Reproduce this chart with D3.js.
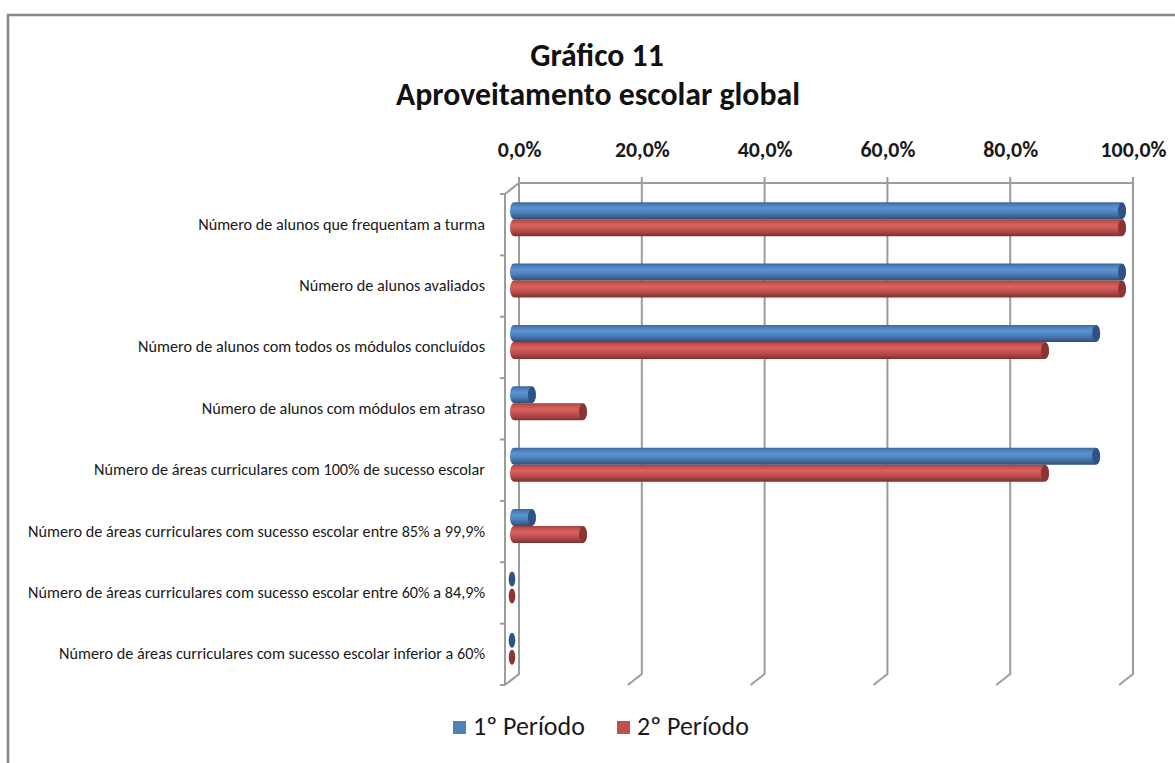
<!DOCTYPE html>
<html><head><meta charset="utf-8">
<script src="https://cdn.jsdelivr.net/npm/d3@7"></script>
<style>html,body{margin:0;padding:0;background:#fff;}svg{display:block;}</style>
</head><body>
<script>
const categories = [
  "Número de alunos que frequentam a turma",
  "Número de alunos avaliados",
  "Número de alunos com todos os módulos concluídos",
  "Número de alunos com módulos em atraso",
  "Número de áreas curriculares com 100% de sucesso escolar",
  "Número de áreas curriculares com sucesso escolar entre 85% a 99,9%",
  "Número de áreas curriculares com sucesso escolar entre 60% a 84,9%",
  "Número de áreas curriculares com sucesso escolar inferior a 60%"
];
const periodo1 = [100, 100, 95.8, 4.2, 95.8, 4.2, 0, 0];
const periodo2 = [100, 100, 87.5, 12.5, 87.5, 12.5, 0, 0];
const seriesNames = ["1º Período", "2º Período"];
const tickValues = [0, 20, 40, 60, 80, 100];
const titleLines = ["Gráfico 11", "Aproveitamento escolar global"];

const W = 1175, H = 763;
const FONT = "Carlito, Calibri, Lato, 'Open Sans', sans-serif";
const svg = d3.select("body").append("svg").attr("width", W).attr("height", H);

// outer border
svg.append("rect").attr("x", 8).attr("y", 15).attr("width", W + 20).attr("height", H + 20)
  .attr("fill", "#fff").attr("stroke", "#878787").attr("stroke-width", 2.5);

// 3D geometry
const back = {left: 519, right: 1133, top: 183, bottom: 674};
const depth = {dx: -14, dy: 11};
const xBack = d3.scaleLinear().domain([0, 100]).range([back.left, back.right]);
const xBar = d3.scaleLinear().domain([0, 100]).range([back.left + depth.dx / 2 - 2, back.right + depth.dx / 2 - 0]);
const yFront = d3.scaleBand().domain(categories).range([back.top + depth.dy, back.bottom + depth.dy]);
const yMid = d3.scaleBand().domain(categories).range([back.top + depth.dy / 2, back.bottom + depth.dy / 2]);

const gridColor = "#9c9c9c";
const grid = svg.append("g").attr("fill", "none").attr("stroke", gridColor).attr("stroke-width", 2);
// top back edge
grid.append("line").attr("x1", back.left).attr("x2", back.right).attr("y1", back.top).attr("y2", back.top);
// vertical back gridlines with floor slant
tickValues.forEach(v => {
  const x = xBack(v);
  grid.append("path").attr("d", `M${x},${back.top - 6}L${x},${back.bottom}L${x + depth.dx},${back.bottom + depth.dy}`);
});
// left wall front edge and top slant
grid.append("path").attr("d",
  `M${back.left},${back.top}L${back.left + depth.dx},${back.top + depth.dy}L${back.left + depth.dx},${back.bottom + depth.dy}`);
// category boundary ticks on front axis
const bounds = categories.map(c => yFront(c)).concat([yFront.range()[1]]);
bounds.forEach(y => {
  grid.append("line").attr("x1", back.left + depth.dx - 5).attr("x2", back.left + depth.dx)
    .attr("y1", y).attr("y2", y);
});

// top axis labels
const fmt = d3.formatLocale({decimal: ",", thousands: ".", grouping: [3], currency: ["", "€"]}).format(".1f");
const axis = d3.axisTop(xBack).tickValues(tickValues).tickSize(0).tickPadding(0).tickFormat(d => fmt(d) + "%");
const ax = svg.append("g").attr("transform", `translate(0,157)`).call(axis);
ax.select(".domain").remove();
ax.selectAll("text").attr("font-family", FONT).attr("font-weight", "bold").attr("font-size", 16)
  .attr("fill", "#1a1a1a").attr("dy", 0);

// fit helper
function fitSize(textSel, target) {
  const node = textSel.node();
  const w = node.getComputedTextLength();
  const fs = parseFloat(textSel.attr("font-size"));
  textSel.attr("font-size", fs * target / w);
}
// match tick label size to reference width of "100,0%"
{
  const last = ax.selectAll("text").filter(d => d === 100);
  const w = last.node().getComputedTextLength();
  const fs = 16 * 66 / w;
  ax.selectAll("text").attr("font-size", fs);
}

// category labels
const catG = svg.append("g");
const catText = catG.selectAll("text").data(categories).join("text")
  .attr("x", 485).attr("y", d => yFront(d) + yFront.bandwidth() / 2 + 5)
  .attr("text-anchor", "end").attr("font-family", FONT).attr("font-size", 13).attr("fill", "#1a1a1a")
  .text(d => d);
{
  const w = catText.filter((d, i) => i === 0).node().getComputedTextLength();
  catText.attr("font-size", 13 * 287 / w);
}

// gradients
const defs = svg.append("defs");
function cylGrad(id, stops) {
  const g = defs.append("linearGradient").attr("id", id).attr("x1", 0).attr("y1", 0).attr("x2", 0).attr("y2", 1);
  stops.forEach(([o, c]) => g.append("stop").attr("offset", o).attr("stop-color", c));
}
cylGrad("gBlue", [[0, "#3a6495"], [0.12, "#4a7ab3"], [0.35, "#5d92d3"], [0.55, "#5086c6"], [0.8, "#41699b"], [1, "#2f4d72"]]);
cylGrad("gRed", [[0, "#9c3f3d"], [0.12, "#c24f4c"], [0.35, "#d9625f"], [0.55, "#c85653"], [0.8, "#a44341"], [1, "#7a302f"]]);
const fills = ["url(#gBlue)", "url(#gRed)"];
const capColors = ["#2e5283", "#8a3533"];
const series = [periodo1, periodo2];

const barH = 17, capRx = 4;
const bars = svg.append("g");
series.forEach((vals, si) => {
  const g = bars.append("g");
  categories.forEach((c, i) => {
    const v = vals[i];
    const cy = yMid(c) + yMid.bandwidth() / 2;
    const y0 = si === 0 ? cy - barH : cy;
    const x0 = xBar(0), x1 = xBar(v);
    if (x1 - x0 > 2 * capRx) {
      g.append("path")
        .attr("d", `M${x0 + capRx},${y0}L${x1 - capRx},${y0}A${capRx},${barH / 2} 0 0 1 ${x1 - capRx},${y0 + barH}L${x0 + capRx},${y0 + barH}A${capRx},${barH / 2} 0 0 1 ${x0 + capRx},${y0}Z`)
        .attr("fill", fills[si]);
      g.append("ellipse").attr("cx", x1 - capRx).attr("cy", y0 + barH / 2).attr("rx", capRx).attr("ry", barH / 2 - 0.5)
        .attr("fill", capColors[si]);
    } else {
      g.append("ellipse").attr("cx", x0 + 2).attr("cy", y0 + barH / 2).attr("rx", 3.3).attr("ry", barH / 2 - 1)
        .attr("fill", capColors[si]);
    }
  });
});

// title
const t1 = svg.append("text").attr("x", 597).attr("y", 66).attr("text-anchor", "middle")
  .attr("font-family", FONT).attr("font-weight", "bold").attr("font-size", 26).attr("fill", "#111").text(titleLines[0]);
const t2 = svg.append("text").attr("x", 598).attr("y", 105).attr("text-anchor", "middle")
  .attr("font-family", FONT).attr("font-weight", "bold").attr("font-size", 26).attr("fill", "#111").text(titleLines[1]);
fitSize(t2, 404);
t1.attr("font-size", t2.attr("font-size"));

// legend
const legendX = [453, 617];
const legendColors = ["#4F81BD", "#C0504D"];
const leg = svg.append("g");
seriesNames.forEach((n, i) => {
  leg.append("rect").attr("x", legendX[i]).attr("y", 721).attr("width", 13).attr("height", 13).attr("fill", legendColors[i]);
  const t = leg.append("text").attr("x", legendX[i] + 20).attr("y", 735).attr("font-family", FONT)
    .attr("font-size", 20).attr("fill", "#1a1a1a").text(n);
  fitSize(t, 112);
});
</script>
</body></html>
